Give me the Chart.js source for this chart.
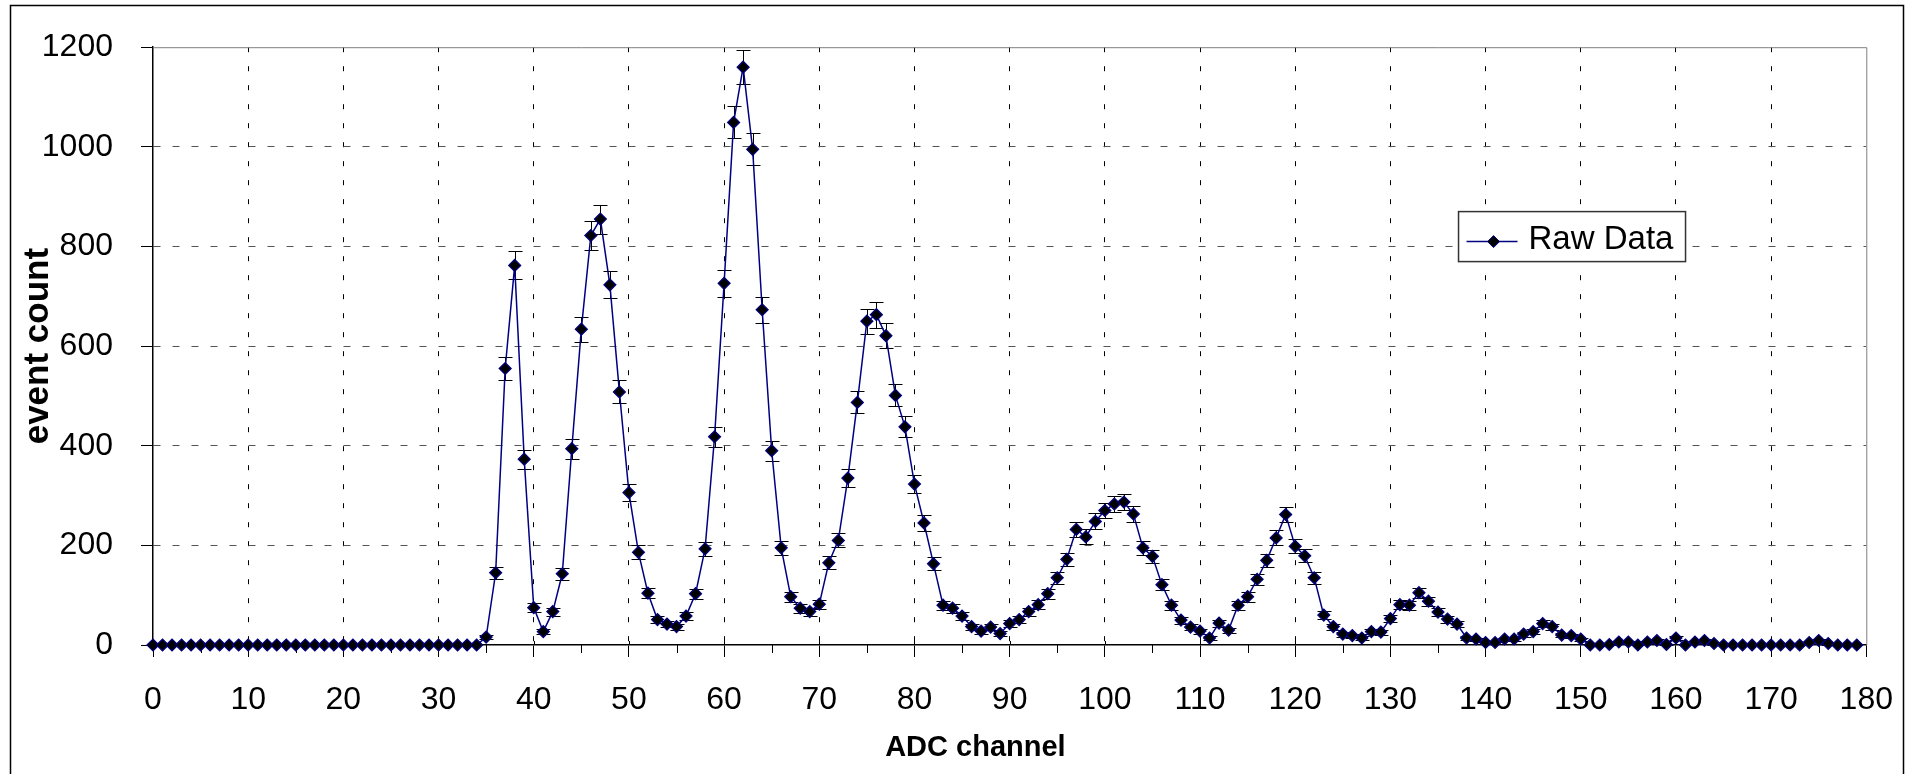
<!DOCTYPE html>
<html>
<head>
<meta charset="utf-8">
<title>ADC spectrum</title>
<script src="https://cdn.jsdelivr.net/npm/chart.js@4"></script>
<style>
    html, body { margin: 0; padding: 0; background: #fff; }
    canvas { display: block; }
</style>
</head>
<body>
<canvas id="spectrum" width="1917" height="774"></canvas>
<script>
// ADC channel 0..179, raw event counts
const channels = [
    0, 1, 2, 3, 4, 5, 6, 7, 8, 9, 10, 11, 12, 13, 14, 15, 16, 17, 18, 19,
    20, 21, 22, 23, 24, 25, 26, 27, 28, 29, 30, 31, 32, 33, 34, 35, 36, 37, 38, 39,
    40, 41, 42, 43, 44, 45, 46, 47, 48, 49, 50, 51, 52, 53, 54, 55, 56, 57, 58, 59,
    60, 61, 62, 63, 64, 65, 66, 67, 68, 69, 70, 71, 72, 73, 74, 75, 76, 77, 78, 79,
    80, 81, 82, 83, 84, 85, 86, 87, 88, 89, 90, 91, 92, 93, 94, 95, 96, 97, 98, 99,
    100, 101, 102, 103, 104, 105, 106, 107, 108, 109, 110, 111, 112, 113, 114, 115, 116, 117, 118, 119,
    120, 121, 122, 123, 124, 125, 126, 127, 128, 129, 130, 131, 132, 133, 134, 135, 136, 137, 138, 139,
    140, 141, 142, 143, 144, 145, 146, 147, 148, 149, 150, 151, 152, 153, 154, 155, 156, 157, 158, 159,
    160, 161, 162, 163, 164, 165, 166, 167, 168, 169, 170, 171, 172, 173, 174, 175, 176, 177, 178, 179
];
const counts = [
    0, 0, 0, 0, 0, 0, 0, 0, 0, 0, 0, 0, 0, 0, 0, 0, 0, 0, 0, 0,
    0, 0, 0, 0, 0, 0, 0, 0, 0, 0, 0, 0, 0, 0, 0, 16, 145, 555, 762, 373,
    75, 27, 67, 143, 394, 634, 822, 855, 723, 508, 306, 186, 104, 51, 42, 37, 58, 103, 193, 418,
    726, 1049, 1160, 995, 673, 390, 195, 97, 74, 67, 82, 165, 210, 335, 487, 650, 663, 621, 501, 438,
    323, 245, 163, 80, 74, 58, 37, 28, 36, 23, 43, 51, 67, 81, 103, 135, 172, 232, 217, 248,
    270, 283, 287, 263, 195, 178, 121, 80, 50, 36, 28, 14, 44, 30, 80, 97, 132, 170, 215, 262,
    198, 179, 135, 60, 37, 22, 19, 14, 27, 26, 53, 81, 80, 105, 88, 66, 52, 42, 14, 12,
    5, 5, 12, 12, 22, 27, 43, 37, 20, 19, 12, 0, 0, 1, 6, 6, 0, 6, 9, 1,
    14, 0, 6, 9, 3, 0, 0, 0, 0, 0, 0, 0, 0, 0, 5, 9, 3, 0, 0, 0
];
// half-length of the error bars
const countErrors = [
    0, 0, 0, 0, 0, 0, 0, 0, 0, 0, 0, 0, 0, 0, 0, 0, 0, 0, 0, 0,
    0, 0, 0, 0, 0, 0, 0, 0, 0, 0, 0, 0, 0, 0, 0, 4, 12, 24, 28, 19,
    9, 5, 8, 12, 20, 25, 29, 29, 27, 23, 17, 14, 10, 7, 6, 6, 8, 10, 14, 20,
    27, 32, 34, 32, 26, 20, 14, 10, 9, 8, 9, 13, 14, 18, 22, 25, 26, 25, 22, 21,
    18, 16, 13, 9, 9, 8, 6, 5, 6, 5, 7, 7, 8, 9, 10, 12, 13, 15, 15, 16,
    16, 17, 17, 16, 14, 13, 11, 9, 7, 6, 5, 4, 7, 5, 9, 10, 11, 13, 15, 16,
    14, 13, 12, 8, 6, 5, 4, 4, 5, 5, 7, 9, 9, 10, 9, 8, 7, 6, 4, 3,
    2, 2, 3, 3, 5, 5, 7, 6, 4, 4, 3, 0, 0, 1, 2, 2, 0, 2, 3, 1,
    4, 0, 2, 3, 2, 0, 0, 0, 0, 0, 0, 0, 0, 0, 2, 3, 2, 0, 0, 0
];
const seriesLabel = "Raw Data";
const xTitle = "ADC channel";
const yTitle = "event count";

const LINE = "#000080";
const FONT = "'Liberation Sans', Arial, sans-serif";

Chart.defaults.font.family = FONT;
Chart.defaults.color = "#000";

const errorBars = {
    id: "errorBars",
    beforeDatasetsDraw(chart) {
        const xs = chart.scales.x;
        const ys = chart.scales.y;
        const ctx = chart.ctx;
        ctx.save();
        ctx.strokeStyle = "#000";
        ctx.lineWidth = 1;
        counts.forEach((v, i) => {
            const e = countErrors[i];
            if (!e) return;
            const px = Math.round(xs.getPixelForValue(channels[i])) + 0.5;
            const top = Math.round(ys.getPixelForValue(Math.min(v + e, ys.max))) + 0.5;
            const bot = Math.round(ys.getPixelForValue(Math.max(v - e, 0))) + 0.5;
            ctx.beginPath();
            ctx.moveTo(px, top);
            ctx.lineTo(px, bot);
            ctx.moveTo(px - 7, top);
            ctx.lineTo(px + 7, top);
            ctx.moveTo(px - 7, bot);
            ctx.lineTo(px + 7, bot);
            ctx.stroke();
        });
        ctx.restore();
    },
};

// plot frame, minor ticks, x title, outer border and the boxed legend
const frame = {
    id: "frame",
    beforeDatasetsDraw(chart) {
        const a = chart.chartArea;
        const ctx = chart.ctx;
        const xs = chart.scales.x;
        ctx.save();
        ctx.strokeStyle = "#808080";
        ctx.lineWidth = 1;
        ctx.beginPath();
        ctx.moveTo(a.left, a.top + 0.5);
        ctx.lineTo(a.right + 0.5, a.top + 0.5);
        ctx.lineTo(a.right + 0.5, a.bottom);
        ctx.stroke();
        ctx.strokeStyle = "#000";
        ctx.beginPath();
        for (let v = 5; v < 180; v += 10) {
            const px = Math.round(xs.getPixelForValue(v)) + 0.5;
            ctx.moveTo(px, a.bottom);
            ctx.lineTo(px, a.bottom + 8);
        }
        for (let v = 10; v < 180; v += 10) {
            const px = Math.round(xs.getPixelForValue(v)) + 0.5;
            ctx.moveTo(px, a.bottom - 4);
            ctx.lineTo(px, a.bottom);
        }
        ctx.stroke();
        ctx.restore();
    },
    afterDraw(chart) {
        const ctx = chart.ctx;
        const a = chart.chartArea;
        ctx.save();
        ctx.strokeStyle = "#000";
        ctx.lineWidth = 1.5;
        ctx.strokeRect(10.5, 5.5, 1893, 800);

        // x axis title sits a little left of the plot centre in the original
        ctx.fillStyle = "#000";
        ctx.font = "bold 29px " + FONT;
        ctx.textAlign = "center";
        ctx.textBaseline = "middle";
        ctx.fillText(xTitle, a.left + 0.48 * (a.right - a.left), 748);

        // legend box
        const bx = a.left + 0.762 * (a.right - a.left);
        const by = a.top + 0.275 * (a.bottom - a.top);
        const bw = 227;
        const bh = 50;
        ctx.fillStyle = "#fff";
        ctx.fillRect(bx, by, bw, bh);
        ctx.lineWidth = 1.5;
        ctx.strokeStyle = "#333";
        ctx.strokeRect(bx, by, bw, bh);
        const ly = by + 30;
        ctx.strokeStyle = LINE;
        ctx.lineWidth = 1.5;
        ctx.beginPath();
        ctx.moveTo(bx + 8, ly);
        ctx.lineTo(bx + 59, ly);
        ctx.stroke();
        ctx.fillStyle = "#000";
        ctx.lineWidth = 1;
        ctx.beginPath();
        ctx.moveTo(bx + 29, ly);
        ctx.lineTo(bx + 35, ly - 6);
        ctx.lineTo(bx + 41, ly);
        ctx.lineTo(bx + 35, ly + 6);
        ctx.closePath();
        ctx.fill();
        ctx.stroke();
        ctx.fillStyle = "#000";
        ctx.font = "33px " + FONT;
        ctx.textAlign = "left";
        ctx.textBaseline = "alphabetic";
        ctx.fillText(seriesLabel, bx + 70, by + 37);
        ctx.restore();
    },
};

const pts = channels.map((c, i) => ({ x: c, y: counts[i] }));

new Chart(document.getElementById("spectrum").getContext("2d"), {
    type: "line",
    data: {
        datasets: [
            {
                label: seriesLabel,
                data: pts,
                borderColor: LINE,
                borderWidth: 1.5,
                backgroundColor: "#000",
                pointStyle: "rectRot",
                pointRadius: 6,
                pointBorderColor: LINE,
                pointBorderWidth: 1.2,
                pointBackgroundColor: "#000",
                tension: 0,
                clip: false,
            },
        ],
    },
    options: {
        responsive: false,
        animation: false,
        layout: { padding: { top: 35, right: 46, left: 0, bottom: 0 } },
        plugins: { legend: { display: false }, tooltip: { enabled: false } },
        scales: {
            x: {
                type: "linear",
                min: 0,
                max: 180,
                afterFit: (s) => { s.height = 129; },
                ticks: {
                    stepSize: 10,
                    font: { size: 32 },
                    padding: 24,
                    maxRotation: 0,
                    callback: (v) => String(v),
                },
                grid: {
                    color: (c) => (c.tick && c.tick.value > 0 && c.tick.value < 180 ? "#000" : "transparent"),
                    tickColor: "#000",
                    tickLength: 12,
                    lineWidth: 1,
                },
                border: { color: "#000", width: 1.5, dash: [5, 14] },
                title: { display: false, text: xTitle },
            },
            y: {
                min: 0,
                max: 1200,
                afterFit: (s) => { s.width = 153; },
                ticks: { stepSize: 200, font: { size: 32 }, padding: 28, callback: (v) => String(v) },
                grid: {
                    color: (c) => (c.tick && c.tick.value > 0 && c.tick.value < 1200 ? "#555" : "transparent"),
                    tickColor: "#000",
                    tickLength: 12,
                    lineWidth: 1,
                },
                border: { color: "#000", width: 1.5, dash: [7, 12] },
                title: {
                    display: true,
                    text: yTitle,
                    font: { size: 35, weight: "bold" },
                    padding: { top: 17, bottom: 0 },
                },
            },
        },
    },
    plugins: [errorBars, frame],
});
</script>
</body>
</html>
